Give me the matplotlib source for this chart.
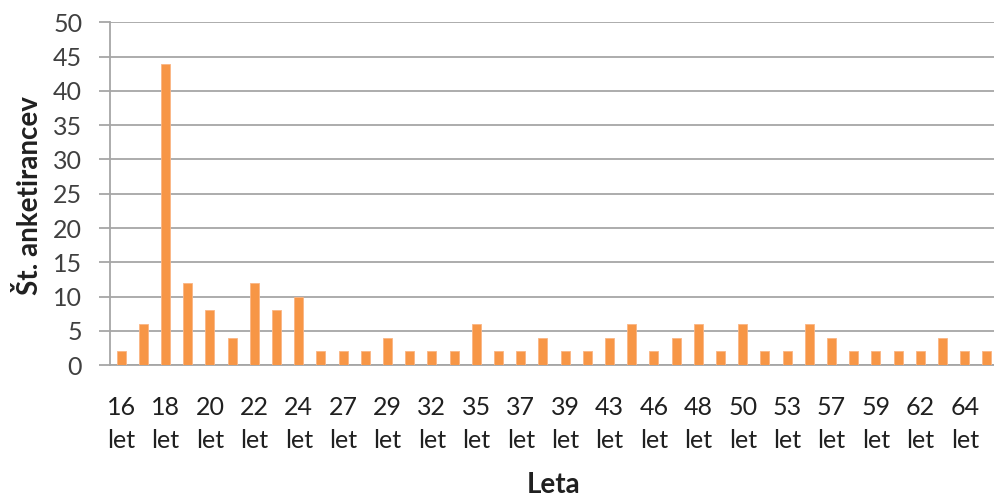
import matplotlib
matplotlib.use("Agg")
import matplotlib.pyplot as plt

categories = ["16 let", "17 let", "18 let", "19 let", "20 let", "21 let", "22 let", "23 let",
              "24 let", "25 let", "27 let", "28 let", "29 let", "30 let", "32 let", "33 let",
              "35 let", "36 let", "37 let", "38 let", "39 let", "40 let", "43 let", "45 let",
              "46 let", "47 let", "48 let", "49 let", "50 let", "51 let", "53 let", "55 let",
              "57 let", "58 let", "59 let", "60 let", "62 let", "63 let", "64 let", "65 let"]
values = [2, 6, 44, 12, 8, 4, 12, 8, 10, 2, 2, 2, 4, 2, 2, 2, 6, 2, 2, 4,
          2, 2, 4, 6, 2, 4, 6, 2, 6, 2, 2, 6, 4, 2, 2, 2, 2, 4, 2, 2]
yticks = [0, 5, 10, 15, 20, 25, 30, 35, 40, 45, 50]

plt.rcParams['font.family'] = ['Lato', 'DejaVu Sans']

fig = plt.figure(figsize=(9.95, 4.98), dpi=100)
ax = fig.add_axes([110/995, (498-365)/498, 888/995, (365-22.5)/498])

x = list(range(len(categories)))
ax.bar(x, values, width=0.4, color="#F79646", edgecolor="#FAB584", linewidth=0.6, zorder=3)

ax.set_xlim(-0.5, len(categories) - 0.5)
ax.set_ylim(0, 50)
ax.set_yticks(yticks)
ax.set_yticklabels([str(v) for v in yticks], fontsize=18, color="#404040")
ax.yaxis.grid(True, color="#A6A6A6", linewidth=1.3, zorder=0)
ax.set_axisbelow(True)

shown = [c.replace(" ", "\n") if i % 2 == 0 else "" for i, c in enumerate(categories)]
ax.set_xticks(x)
ax.set_xticklabels(shown, fontsize=18, color="#202020", linespacing=1.55)
ax.tick_params(axis='x', length=0, pad=22)
ax.tick_params(axis='y', length=8, width=1.3, color="#A6A6A6", pad=12)

for s in ["top", "right"]:
    ax.spines[s].set_visible(False)
for s in ["left", "bottom"]:
    ax.spines[s].set_color("#A6A6A6")
    ax.spines[s].set_linewidth(1.3)

fig.text(30/995, 1 - 196/498, "Št. anketirancev", rotation=90, ha="center", va="center",
         fontsize=20, fontweight="bold", color="#202020")
fig.text(554/995, 1 - 485/498, "Leta", ha="center", va="center",
         fontsize=20, fontweight="bold", color="#202020")

fig.savefig("out.png", dpi=100)
